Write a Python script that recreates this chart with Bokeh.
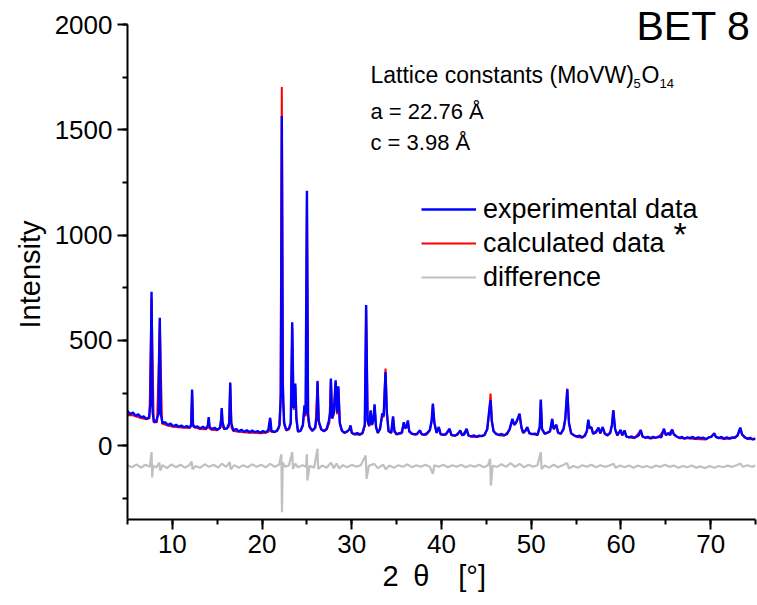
from bokeh.plotting import figure
from bokeh.models import Range1d, SingleIntervalTicker, Label, Legend, LegendItem
from bokeh.embed import file_html
from bokeh.resources import INLINE

# ---------------- data ----------------
exp_two_theta = [5.0, 5.3, 5.6, 5.9, 6.2, 6.5, 6.8, 7.1, 7.4, 7.55, 7.68, 7.8, 7.95, 8.2, 8.45, 8.6, 8.72, 8.9,
                 9.2, 9.5, 9.8, 10.1, 10.4, 10.7, 11.0, 11.3, 11.6, 11.9, 12.1, 12.2, 12.3, 12.5, 12.8, 13.1,
                 13.4, 13.7, 13.95, 14.05, 14.15, 14.4, 14.7, 15.0, 15.3, 15.45, 15.5, 15.6, 15.8, 16.1, 16.35,
                 16.45, 16.55, 16.8, 17.1, 17.4, 17.7, 18.0, 18.3, 18.6, 18.9, 19.2, 19.5, 19.8, 20.1, 20.4,
                 20.7, 20.9, 21.05, 21.4, 21.7, 21.95, 22.1, 22.2, 22.3, 22.45, 22.7, 23.0, 23.2, 23.36, 23.5,
                 23.62, 23.7, 23.82, 24.0, 24.3, 24.55, 24.73, 24.85, 25.0, 25.12, 25.3, 25.6, 25.9, 26.1,
                 26.18, 26.3, 26.6, 26.9, 27.2, 27.45, 27.6, 27.67, 27.8, 28.0, 28.2, 28.35, 28.5, 28.65, 28.9,
                 29.2, 29.5, 29.75, 29.86, 30.0, 30.3, 30.6, 30.9, 31.2, 31.45, 31.6, 31.75, 31.95, 32.1, 32.25,
                 32.4, 32.54, 32.7, 32.9, 33.15, 33.4, 33.55, 33.76, 33.9, 34.1, 34.4, 34.6, 34.75, 35.0, 35.3,
                 35.6, 35.8, 35.95, 36.1, 36.25, 36.4, 36.7, 37.0, 37.3, 37.6, 37.8, 38.1, 38.4, 38.7, 38.9,
                 39.04, 39.2, 39.45, 39.7, 39.9, 40.2, 40.5, 40.9, 41.1, 41.5, 41.8, 42.1, 42.3, 42.55, 42.8,
                 43.0, 43.3, 43.6, 43.9, 44.2, 44.5, 44.8, 45.1, 45.3, 45.47, 45.6, 45.8, 46.1, 46.4, 46.7,
                 47.0, 47.3, 47.6, 47.9, 48.1, 48.3, 48.5, 48.7, 48.9, 49.1, 49.35, 49.56, 49.8, 50.1, 50.4,
                 50.7, 50.95, 51.07, 51.2, 51.5, 51.8, 52.1, 52.34, 52.5, 52.65, 52.8, 53.0, 53.3, 53.6, 53.8,
                 54.02, 54.2, 54.45, 54.8, 55.1, 55.4, 55.7, 56.0, 56.2, 56.36, 56.5, 56.7, 56.9, 57.2, 57.5,
                 57.7, 57.97, 58.2, 58.5, 58.8, 59.0, 59.15, 59.35, 59.6, 59.96, 60.15, 60.4, 60.6, 60.9, 61.2,
                 61.5, 61.8, 62.0, 62.2, 62.4, 62.7, 63.0, 63.3, 63.6, 63.9, 64.2, 64.5, 64.8, 65.0, 65.3, 65.5,
                 65.7, 65.9, 66.2, 66.5, 66.8, 67.1, 67.4, 67.7, 68.0, 68.3, 68.6, 68.9, 69.2, 69.5, 69.8, 70.1,
                 70.4, 70.6, 70.9, 71.2, 71.5, 71.8, 72.1, 72.4, 72.7, 73.0, 73.3, 73.5, 73.8, 74.1, 74.4, 74.7,
                 75.0]
exp_intensity = [165, 150, 158, 142, 150, 135, 140, 128, 135, 200, 731, 160, 112, 118, 150, 608, 150, 108,
                 112, 98, 106, 92, 100, 90, 96, 88, 94, 86, 100, 267, 100, 88, 92, 82,
                 90, 80, 95, 136, 90, 78, 86, 76, 84, 130, 179, 110, 80, 82, 110,
                 300, 110, 72, 80, 68, 76, 66, 74, 64, 72, 64, 70, 62, 70, 64,
                 76, 133, 70, 66, 72, 100, 250, 1565, 300, 110, 75, 82, 110, 586, 180,
                 200, 295, 130, 68, 72, 100, 192, 150, 1211, 150, 90, 72, 85, 140,
                 308, 120, 78, 70, 80, 120, 160, 319, 130, 160, 311, 160, 282, 110, 72,
                 62, 68, 80, 97, 62, 55, 60, 54, 62, 100, 668, 120, 95, 168, 100,
                 120, 197, 90, 62, 80, 154, 140, 350, 160, 70, 62, 140, 70, 55, 60,
                 62, 112, 85, 90, 120, 70, 58, 54, 58, 73, 55, 52, 60, 75, 120,
                 200, 110, 62, 89, 56, 52, 56, 81, 52, 48, 54, 73, 50, 54, 81,
                 50, 44, 50, 42, 48, 46, 52, 80, 160, 216, 120, 70, 55, 52, 56,
                 50, 55, 80, 128, 100, 110, 130, 152, 90, 62, 70, 89, 60, 55, 58,
                 52, 90, 220, 80, 58, 62, 70, 128, 80, 90, 100, 62, 58, 80, 130,
                 268, 110, 60, 48, 44, 48, 40, 48, 70, 124, 85, 89, 58, 62, 86,
                 60, 89, 58, 50, 62, 100, 168, 80, 50, 76, 50, 73, 45, 40, 44,
                 38, 44, 50, 76, 45, 38, 42, 36, 42, 38, 44, 40, 81, 52, 60, 50,
                 78, 55, 44, 38, 42, 34, 40, 36, 42, 34, 40, 36, 38, 32, 40, 42,
                 60, 42, 36, 42, 34, 40, 34, 40, 38, 50, 86, 55, 40, 34, 38, 30,
                 35]

calc_two_theta = [5.0, 5.6, 6.5, 7.1, 7.45, 7.68, 7.92, 8.3, 8.6, 8.85, 9.5, 10.1, 10.7, 11.3, 11.9, 12.08,
                  12.2, 12.32, 13.1, 13.7, 13.95, 14.05, 14.15, 14.4, 15.0, 15.38, 15.5, 15.62, 15.8, 16.3,
                  16.45, 16.6, 16.8, 17.4, 18.0, 18.6, 19.2, 19.8, 20.4, 20.78, 20.9, 21.02, 21.4, 21.9,
                  22.05, 22.2, 22.35, 22.5, 22.7, 23.0, 23.2, 23.36, 23.52, 23.7, 23.85, 24.0, 24.3, 24.55,
                  24.73, 24.87, 25.0, 25.15, 25.3, 25.6, 25.95, 26.18, 26.35, 26.6, 26.9, 27.2, 27.5, 27.67,
                  27.85, 28.0, 28.2, 28.35, 28.5, 28.7, 28.9, 29.2, 29.7, 29.86, 30.0, 30.3, 30.9, 31.2,
                  31.45, 31.6, 31.78, 31.95, 32.1, 32.25, 32.4, 32.54, 32.72, 32.9, 33.15, 33.4, 33.55, 33.76,
                  33.93, 34.1, 34.4, 34.6, 34.77, 35.0, 35.5, 35.8, 35.95, 36.1, 36.25, 36.42, 36.7, 37.2,
                  37.6, 37.8, 38.3, 38.7, 38.9, 39.04, 39.22, 39.45, 39.7, 39.9, 40.5, 40.9, 41.1, 41.5, 42.1,
                  42.3, 42.8, 43.0, 43.5, 44.2, 44.8, 45.1, 45.3, 45.47, 45.62, 45.8, 46.4, 47.0, 47.6, 47.9,
                  48.1, 48.3, 48.5, 48.7, 48.9, 49.1, 49.56, 49.8, 50.4, 50.7, 50.95, 51.07, 51.22, 51.5, 52.1,
                  52.34, 52.5, 52.8, 53.0, 53.3, 53.6, 53.8, 54.02, 54.22, 54.45, 55.1, 55.7, 56.2, 56.36,
                  56.5, 56.7, 56.9, 57.5, 57.7, 57.97, 58.2, 58.5, 58.8, 59.0, 59.15, 59.35, 59.6, 59.96,
                  60.15, 60.4, 60.6, 61.5, 62.2, 62.4, 63.3, 64.2, 64.8, 65.0, 65.3, 65.7, 65.9, 66.5, 67.4,
                  68.3, 69.5, 70.4, 70.6, 71.5, 72.4, 73.0, 73.3, 73.5, 74.1, 75.0]
calc_intensity = [145, 145, 132, 126, 130, 700, 112, 112, 590, 105, 96, 90, 88, 86, 84, 90,
                  255, 90, 80, 78, 85, 128, 82, 76, 74, 90, 172, 88, 78, 90,
                  292, 85, 70, 66, 64, 62, 62, 60, 62, 68, 128, 66, 64, 85,
                  200, 1703, 200, 95, 72, 78, 105, 560, 170, 285, 120, 66, 70, 95,
                  186, 140, 1190, 120, 86, 70, 85, 300, 105, 76, 68, 76, 110, 310,
                  130, 150, 300, 150, 275, 100, 70, 60, 75, 92, 60, 53, 52, 58,
                  95, 645, 110, 92, 160, 98, 115, 190, 85, 60, 78, 148, 135, 367,
                  150, 68, 60, 135, 66, 53, 58, 108, 82, 86, 116, 66, 56, 52,
                  70, 53, 52, 72, 115, 195, 105, 60, 86, 54, 52, 78, 50, 46, 70,
                  48, 78, 48, 42, 44, 50, 78, 150, 248, 115, 68, 50, 48, 76, 124,
                  98, 106, 125, 148, 86, 60, 86, 58, 54, 50, 85, 212, 76, 56, 66,
                  124, 78, 96, 60, 56, 76, 125, 272, 105, 58, 42, 38, 66, 120,
                  82, 86, 56, 82, 58, 86, 56, 48, 58, 95, 170, 76, 48, 72,
                  48, 70, 43, 36, 72, 43, 34, 40, 76, 50, 56, 74, 52, 36, 36,
                  32, 30, 56, 40, 32, 36, 46, 82, 52, 32, 31]

diff_two_theta = [5.0, 5.5, 6.0, 6.5, 7.0, 7.5, 7.6, 7.68, 7.75, 7.85, 8.2, 8.55, 8.65, 8.9, 9.4, 9.9, 10.4,
                  10.9, 11.4, 11.9, 12.15, 12.25, 12.6, 13.1, 13.6, 14.1, 14.6, 15.1, 15.5, 16.0, 16.4, 16.5,
                  16.9, 17.4, 17.9, 18.4, 18.9, 19.4, 19.9, 20.4, 20.9, 21.4, 21.9, 22.15, 22.22, 22.3, 22.6,
                  23.0, 23.36, 23.45, 23.7, 24.0, 24.5, 24.9, 25.0, 25.05, 25.3, 25.8, 26.18, 26.25, 26.7,
                  27.2, 27.67, 28.0, 28.3, 28.6, 29.0, 29.5, 30.0, 30.5, 31.0, 31.55, 31.65, 31.9, 32.5, 32.9,
                  33.5, 33.8, 34.2, 34.7, 35.2, 35.7, 36.2, 36.7, 37.2, 37.7, 38.2, 38.7, 39.04, 39.2, 39.7,
                  40.2, 40.7, 41.2, 41.7, 42.2, 42.7, 43.2, 43.7, 44.2, 44.7, 45.2, 45.42, 45.5, 45.7, 46.2,
                  46.7, 47.2, 47.7, 48.2, 48.7, 49.2, 49.7, 50.2, 50.7, 51.07, 51.15, 51.5, 52.0, 52.5, 53.0,
                  53.5, 54.0, 54.2, 54.7, 55.2, 55.7, 56.2, 56.7, 57.2, 57.7, 58.2, 58.7, 59.2, 59.4, 59.9,
                  60.4, 60.9, 61.4, 61.9, 62.4, 62.9, 63.4, 63.9, 64.4, 64.9, 65.4, 65.9, 66.4, 66.9, 67.4,
                  67.9, 68.4, 68.9, 69.4, 69.9, 70.4, 70.9, 71.4, 71.9, 72.4, 72.9, 73.3, 73.6, 74.1, 74.6,
                  75.0]
diff_intensity = [-92, -102, -88, -104, -90, -100, -60, -30, -150, -95, -104, -80, -118, -92, -106, -88, -102,
                  -90, -104, -92, -75, -112, -96, -104, -88, -100, -90, -104, -85, -100, -78, -112,
                  -92, -104, -92, -102, -88, -100, -90, -102, -86, -100, -90, -40, -316, -80, -100,
                  -92, -30, -110, -85, -102, -92, -100, -40, -165, -95, -104, -14, -110, -94,
                  -104, -80, -106, -84, -108, -92, -102, -90, -100, -92, -46, -157, -95, -86, -106,
                  -90, -112, -94, -104, -92, -100, -88, -102, -92, -100, -90, -100, -133, -92, -100,
                  -90, -102, -92, -100, -90, -102, -92, -100, -90, -102, -92, -62, -189, -95, -100,
                  -88, -100, -82, -100, -86, -102, -90, -100, -92, -30, -110, -94, -104, -90, -102,
                  -92, -82, -108, -96, -104, -92, -100, -90, -102, -92, -100, -94, -86, -104, -94,
                  -102, -94, -104, -94, -102, -96, -104, -94, -100, -90, -100, -94, -104, -96, -102,
                  -94, -104, -98, -106, -96, -104, -96, -102, -94, -100, -92, -84, -100, -92, -100,
                  -94]

legend_labels = ["experimental data", "calculated data", "difference"]
series_colors = ["#0000FF", "#FF0000", "#C0C0C0"]
y_axis_bounds = (-350, 2000)

# ---------------- figure ----------------
FONT = "Liberation Sans"
X0, X1, Y0 = 5, 75, -350
L, FW = 127, 628
AXIS_TOP_PX = 24            # pixel row of the 2000 end of the y axis
FH = 519                    # frame runs from the top of the page to the x axis
Y1 = 2000 + AXIS_TOP_PX * (2000 - Y0) / (FH - AXIS_TOP_PX)


def dx(px):
    return X0 + (px - L) * (X1 - X0) / FW


def dy(py):
    return Y1 - py * (Y1 - Y0) / FH


p = figure(width=757, height=605, output_backend="svg", toolbar_location=None,
           x_range=Range1d(X0, X1), y_range=Range1d(Y0, Y1),
           min_border_left=L, min_border_right=757 - L - FW, min_border_top=0,
           min_border_bottom=605 - FH)
p.outline_line_color = None
p.xgrid.visible = False
p.ygrid.visible = False
p.background_fill_color = "white"
p.border_fill_color = "white"

p.xaxis.ticker = SingleIntervalTicker(interval=10, num_minor_ticks=2)
p.yaxis.ticker = SingleIntervalTicker(interval=500, num_minor_ticks=2)
p.yaxis.bounds = y_axis_bounds
for ax in (p.xaxis, p.yaxis):
    ax.axis_line_width = 2
    ax.axis_line_color = "black"
    ax.major_tick_line_width = 2
    ax.minor_tick_line_width = 2
    ax.major_tick_line_color = "black"
    ax.minor_tick_line_color = "black"
    ax.major_tick_out = 10
    ax.major_tick_in = 0
    ax.minor_tick_out = 5
    ax.minor_tick_in = 0
    ax.major_label_text_font = FONT
    ax.major_label_text_font_size = "26px"
    ax.major_label_text_color = "black"
    ax.axis_label_text_font = FONT
    ax.axis_label_text_font_size = "29px"
    ax.axis_label_text_font_style = "normal"
    ax.axis_label_text_color = "black"
    ax.major_label_standoff = 5
p.xaxis.axis_label = "2\u2002θ\u2003[°]\u2002"
p.yaxis.axis_label = "Intensity\u2003"
p.xaxis.axis_label_standoff = 4
p.yaxis.axis_label_standoff = 6

r_diff = p.line(diff_two_theta, diff_intensity, color=series_colors[2], line_width=2.2)
r_calc = p.line(calc_two_theta, calc_intensity, color=series_colors[1], line_width=2)
r_exp = p.line(exp_two_theta, exp_intensity, color=series_colors[0], line_width=2.4)

legend = Legend(items=[LegendItem(label=legend_labels[0], renderers=[r_exp]),
                       LegendItem(label=legend_labels[1], renderers=[r_calc]),
                       LegendItem(label=legend_labels[2], renderers=[r_diff])],
                location=(421 - L, FH - 294), glyph_width=55, glyph_height=34,
                label_height=34, spacing=0, padding=0, margin=0, label_standoff=7,
                border_line_color=None, background_fill_alpha=0,
                label_text_font=FONT, label_text_font_size="27px", label_text_color="black")
p.add_layout(legend)


def label(text, px, py, size):
    p.add_layout(Label(x=dx(px), y=dy(py), text=text, text_font=FONT, text_font_size=size,
                       text_color="black", text_baseline="alphabetic", text_align="left"))


label("BET 8", 636, 25, "41px")
label("Lattice constants (MoVW)", 370, 74, "23px")
label("5", 633, 83, "13px")
label("O", 641, 74, "23px")
label("14", 659, 83, "13px")
label("a = 22.76 Å", 370, 111, "22px")
label("c = 3.98 Å", 370, 142, "22px")
label("*", 673, 233, "34px")

open("out.html", "w").write(file_html(p, INLINE))
